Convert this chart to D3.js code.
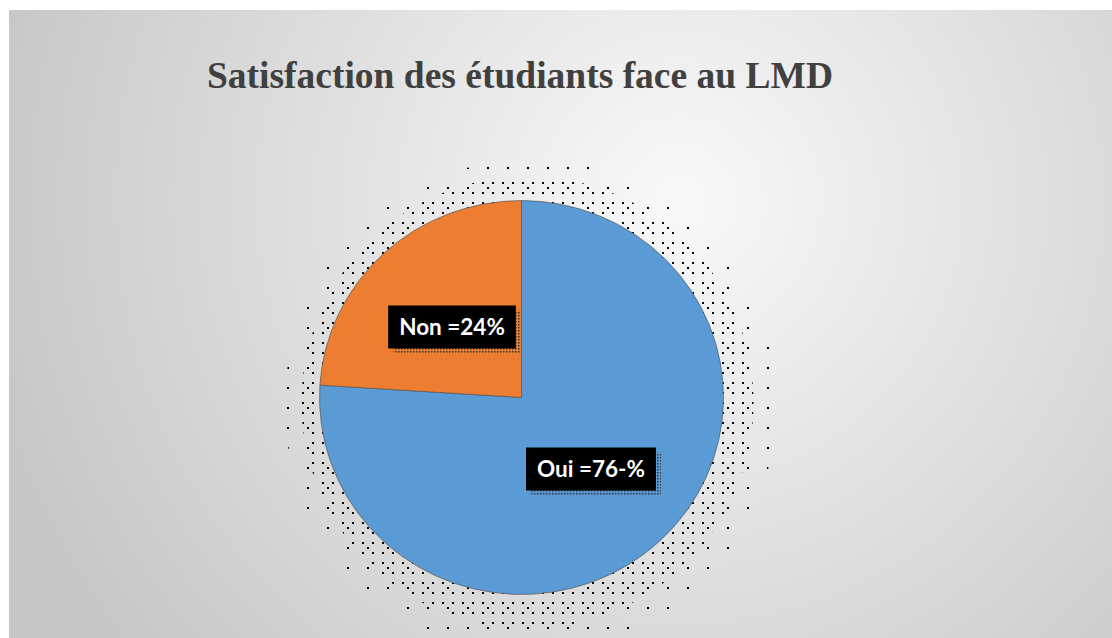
<!DOCTYPE html>
<html>
<head>
<meta charset="utf-8">
<script src="https://cdn.jsdelivr.net/npm/d3@7"></script>
<style>
  body { margin: 0; background: #fff; }
  svg { display: block; }
</style>
</head>
<body>
<svg width="1112" height="638"></svg>
<script>
const categories = ["Oui", "Non"];
const values = [76, 24];
const labels = ["Oui =76-%", "Non =24%"];
const colors = ["#5B9BD5", "#ED7D31"];

const svg = d3.select("svg"),
  width = +svg.attr("width"),
  height = +svg.attr("height");

const defs = svg.append("defs");

const bg = defs.append("radialGradient")
  .attr("id", "bg")
  .attr("gradientUnits", "userSpaceOnUse")
  .attr("cx", 680).attr("cy", 200).attr("r", 720);
bg.append("stop").attr("offset", "0%").attr("stop-color", "#f9f9f9");
bg.append("stop").attr("offset", "100%").attr("stop-color", "#c6c6c6");

// halftone-like shadow dots
const dense = defs.append("pattern")
  .attr("id", "dense").attr("patternUnits", "userSpaceOnUse")
  .attr("width", 10).attr("height", 10);
dense.append("rect").attr("x", 2).attr("y", 2).attr("width", 2).attr("height", 2).attr("fill", "#000");
const sparse = defs.append("pattern")
  .attr("id", "sparse").attr("patternUnits", "userSpaceOnUse")
  .attr("width", 20).attr("height", 20);
sparse.append("rect").attr("x", 7).attr("y", 7).attr("width", 2).attr("height", 2).attr("fill", "#000");
const boxDots = defs.append("pattern")
  .attr("id", "boxdots").attr("patternUnits", "userSpaceOnUse")
  .attr("width", 3).attr("height", 3);
boxDots.append("rect").attr("width", 1.5).attr("height", 1.5).attr("fill", "#333");

svg.append("rect")
  .attr("x", 9).attr("y", 10)
  .attr("width", width - 9).attr("height", height - 10)
  .attr("fill", "url(#bg)");

svg.append("text")
  .attr("x", 520).attr("y", 88)
  .attr("text-anchor", "middle")
  .attr("font-family", "Liberation Serif, Times New Roman, serif")
  .attr("font-weight", "bold")
  .attr("font-size", 37.5)
  .attr("fill", "#404040")
  .text("Satisfaction des étudiants face au LMD");

const cx = 521.5, cy = 397.5, r = 202;

// shadow rings, offset a little to the bottom right
const shadow = svg.append("g");
shadow.append("circle").attr("cx", cx + 9).attr("cy", cy + 8).attr("r", r + 44).attr("fill", "url(#sparse)");
shadow.append("circle").attr("cx", cx + 6).attr("cy", cy + 5).attr("r", r + 24).attr("fill", "url(#dense)");

const chart = svg.append("g").attr("transform", `translate(${cx},${cy}) scale(1,0.975)`);

const pie = d3.pie().sort(null).startAngle(0).endAngle(2 * Math.PI)
  .value((d) => d.value);
const arc = d3.arc().innerRadius(0).outerRadius(r);

const data = categories.map((c, i) => ({ name: c, value: values[i], label: labels[i], color: colors[i] }));
const arcs = pie(data);

chart.selectAll(".slice")
  .data(arcs)
  .enter()
  .append("path")
  .attr("class", "slice")
  .attr("d", arc)
  .attr("fill", (d) => d.data.color)
  .attr("stroke", "#555")
  .attr("stroke-width", 0.7);

// label centres
const labelPos = { Oui: [591, 469], Non: [452, 327] };

const lab = svg.selectAll(".lab")
  .data(arcs)
  .enter()
  .append("g")
  .attr("class", "lab")
  .attr("transform", (d) => `translate(${labelPos[d.data.name][0]},${labelPos[d.data.name][1]})`);

lab.each(function (d) {
  const g = d3.select(this);
  const t = g.append("text")
    .attr("text-anchor", "middle")
    .attr("dy", "0.35em")
    .attr("font-family", "Lato, Open Sans, sans-serif")
    .attr("font-weight", "bold")
    .attr("font-size", 22.5)
    .attr("fill", "#fff")
    .text(d.data.label);
  const bb = t.node().getBBox();
  const w = bb.width + 22, h = 43;
  g.insert("rect", "text")
    .attr("x", -w / 2 + 5).attr("y", -h / 2 + 5)
    .attr("width", w).attr("height", h)
    .attr("fill", "url(#boxdots)");
  g.insert("rect", "text")
    .attr("x", -w / 2).attr("y", -h / 2)
    .attr("width", w).attr("height", h)
    .attr("fill", "#000");
});
</script>
</body>
</html>
